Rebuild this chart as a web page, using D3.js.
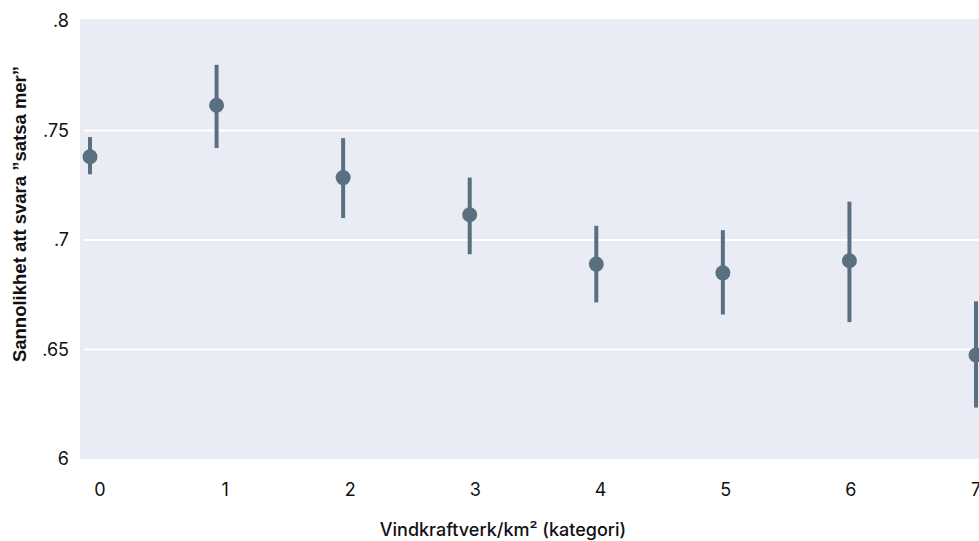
<!DOCTYPE html>
<html>
<head>
<meta charset="utf-8">
<script src="https://cdn.jsdelivr.net/npm/d3@7"></script>
<style>
body { margin: 0; background: #fff; }
svg text { font-family: "Inter", "Lato", sans-serif; fill: #111; }
</style>
</head>
<body>
<div id="chart"></div>
<script>
let categories = [0, 1, 2, 3, 4, 5, 6, 7];
let estimate = [0.738, 0.7615, 0.7285, 0.7115, 0.689, 0.685, 0.6905, 0.6475];
let lower = [0.730, 0.742, 0.710, 0.6935, 0.6715, 0.666, 0.6625, 0.6235];
let upper = [0.747, 0.780, 0.7465, 0.7285, 0.7065, 0.7045, 0.7175, 0.672];
let yTicks = [0.6, 0.65, 0.7, 0.75, 0.8];
let yTickLabels = ["6", ".65", ".7", ".75", ".8"];

let width = 979, height = 541;
let plotLeft = 80, plotTop = 19, plotBottom = 459;

var svg = d3.select("#chart")
	.append("svg")
	.attr("width", width)
	.attr("height", height);

var y = d3.scaleLinear().domain([0.6, 0.8]).range([459, 21]);
var x = d3.scaleLinear().domain([0, 7]).range([90, 976]);
// tick labels sit a little off the points in the original
var xLab = d3.scaleLinear().domain([0, 7]).range([100, 976]);

// plot background
svg.append("rect")
	.attr("x", plotLeft)
	.attr("y", plotTop)
	.attr("width", width - plotLeft)
	.attr("height", plotBottom - plotTop)
	.style("fill", "#e9ecf4");

// gridlines
svg.selectAll(".grid")
	.data(yTicks.filter(function(d) { return d > 0.6 && d < 0.8; }))
	.enter().append("line")
	.attr("class", "grid")
	.attr("x1", plotLeft + 4)
	.attr("x2", width)
	.attr("y1", function(d) { return y(d); })
	.attr("y2", function(d) { return y(d); })
	.style("stroke", "#fff")
	.style("stroke-width", 2);

// y tick labels
svg.selectAll(".ylab")
	.data(yTicks)
	.enter().append("text")
	.attr("class", "ylab")
	.attr("x", 69)
	.attr("y", function(d) { return y(d); })
	.attr("dy", ".35em")
	.attr("text-anchor", "end")
	.style("font-size", "18px")
	.text(function(d, i) { return yTickLabels[i]; });

// x tick labels
svg.selectAll(".xlab")
	.data(categories)
	.enter().append("text")
	.attr("class", "xlab")
	.attr("x", function(d) { return xLab(d); })
	.attr("y", 490)
	.attr("dy", ".35em")
	.attr("text-anchor", "middle")
	.style("font-size", "18px")
	.text(function(d) { return d; });

// error bars
svg.selectAll(".ci")
	.data(categories)
	.enter().append("line")
	.attr("class", "ci")
	.attr("x1", function(d) { return x(d); })
	.attr("x2", function(d) { return x(d); })
	.attr("y1", function(d, i) { return y(lower[i]); })
	.attr("y2", function(d, i) { return y(upper[i]); })
	.style("stroke", "#5a7080")
	.style("stroke-width", 4);

// points
svg.selectAll(".pt")
	.data(categories)
	.enter().append("circle")
	.attr("class", "pt")
	.attr("cx", function(d) { return x(d); })
	.attr("cy", function(d, i) { return y(estimate[i]); })
	.attr("r", 7.5)
	.style("fill", "#5a7080");

// axis titles
svg.append("text")
	.attr("x", 503)
	.attr("y", 530)
	.attr("dy", ".35em")
	.attr("text-anchor", "middle")
	.style("font-size", "18px")
	.style("font-weight", 500)
	.text("Vindkraftverk/km\u00b2 (kategori)");

svg.append("text")
	.attr("transform", "translate(20,214) rotate(-90)")
	.attr("dy", ".35em")
	.attr("text-anchor", "middle")
	.style("font-family", "'Liberation Sans', Arial, sans-serif")
	.style("font-weight", "bold")
	.style("font-size", "18.5px")
	.text("Sannolikhet att svara \u201dsatsa mer\u201d");
</script>
</body>
</html>
